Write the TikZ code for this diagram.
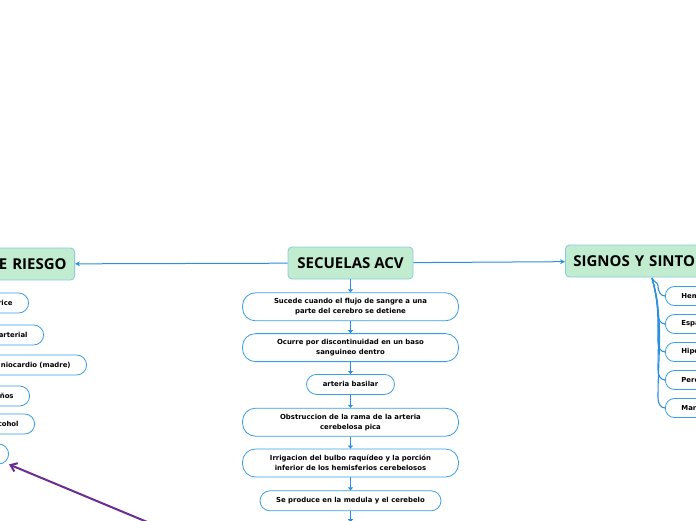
\documentclass[tikz,border=0pt]{standalone}
\usepackage{fontspec}
\setmainfont{DejaVu Sans}
\newfontfamily\titlefont{Open Sans}
\usetikzlibrary{arrows.meta, positioning, calc}
\definecolor{MapBlue}{HTML}{3A9EE4}
\definecolor{LineBlue}{HTML}{2B8FDB}
\definecolor{TopicGreen}{HTML}{C1ECCF}
\definecolor{TopicEdge}{HTML}{86CBE0}
\definecolor{LinkPurple}{HTML}{6A2C91}

\begin{document}
\begin{tikzpicture}[
    x=1pt, y=-1pt,
    topic/.style={draw=TopicEdge, line width=0.8pt, fill=TopicGreen,
        rounded corners=4pt, minimum height=32pt, inner xsep=8pt,
        font=\titlefont\bfseries\fontsize{15}{18}\selectfont},
    item/.style={draw=MapBlue, line width=0.8pt, fill=white,
        rounded corners=10pt, minimum height=20pt, inner xsep=8pt,
        align=center, font=\bfseries\fontsize{6.9}{10}\selectfont},
    wide/.style={item, minimum width=216pt, minimum height=28pt,
        rounded corners=13pt},
    leftitem/.style={item, anchor=east, text width=120pt, align=right,
        inner xsep=16pt},
    rightitem/.style={item, anchor=west, text width=60pt, align=left,
        inner xsep=16pt, minimum height=19pt, rounded corners=9pt},
    link/.style={-{Triangle[length=3pt, width=5pt]}, LineBlue, line width=0.8pt},
    main/.style={-{Stealth[length=5pt, width=5pt]}, LineBlue, line width=1pt},
    branch/.style={LineBlue, line width=1.1pt},
    purplelink/.style={-{Straight Barb[length=6pt, width=9pt]}, LinkPurple,
        line width=2pt},
]
\useasboundingbox (0,0) rectangle (696,520);
\clip (0,0) rectangle (696,520);

% tema central y columna
\node[topic, minimum width=125pt] (sec) at (350.5,263) {SECUELAS ACV};
\node[wide, below=13pt of sec] (c1)
    {Sucede cuando el flujo de sangre a una\\parte del cerebro se detiene};
\node[wide, below=12pt of c1] (c2)
    {Ocurre por discontinuidad en un baso\\sanguineo dentro};
\node[item, minimum width=88pt, below=12pt of c2] (c3) {arteria basilar};
\node[wide, below=13pt of c3] (c4)
    {Obstruccion de la rama de la arteria\\cerebelosa pica};
\node[wide, below=12pt of c4] (c5)
    {Irrigacion del bulbo raquídeo y la porción\\inferior de los hemisferios cerebelosos};
\node[item, minimum width=181pt, below=13pt of c5] (c6)
    {Se produce en la medula y el cerebelo};
\node[wide, minimum width=214pt, below=11pt of c6] (c7) {};

\foreach \a/\b in {sec/c1, c1/c2, c2/c3, c3/c4, c4/c5, c5/c6, c6/c7}
    \draw[link] (\a.south) -- (\b.north);

% rama izquierda
\node[topic, anchor=east, text width=100pt, align=right] (fr) at (75,264) {E RIESGO};
\node[leftitem] (l1) at (29,303) {rice};
\node[leftitem] (l2) at (44,335) {arterial};
\node[leftitem] (l3) at (87,365) {niocardio (madre)};
\node[leftitem] (l4) at (30,396) {ños};
\node[leftitem] (l5) at (35,424) {cohol};
\node[leftitem] (l6) at (9,454) {};

% rama derecha
\node[topic, anchor=west, text width=200pt, align=left] (sig) at (565,261) {SIGNOS Y SINTO};
\node[rightitem] (r1) at (665,296) {Hem};
\node[rightitem] (r2) at (665,324) {Espa};
\node[rightitem] (r3) at (665,352) {Hipe};
\node[rightitem] (r4) at (665,380) {Pere};
\node[rightitem] (r5) at (665,408) {Mar};

\coordinate (sigfoot) at (652,278);
\foreach \i in {1,...,5}
    \draw[branch] (sigfoot) to[out=-75, in=90] ($(r\i.west)+(-7,-10)$)
        to[out=-90, in=180] (r\i.west);

% conexiones principales
\draw[main] (sec) -- (fr);
\draw[main] (sec) -- (sig);

% enlace morado
\coordinate (lnkstart) at (152,524);
\draw[purplelink] (lnkstart) -- (l6.south east);

\end{tikzpicture}
\end{document}
